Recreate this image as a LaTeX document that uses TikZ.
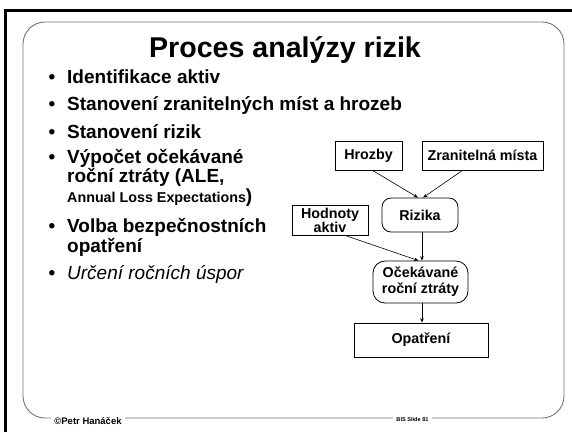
\documentclass[tikz,border=0pt]{standalone}
\usepackage{fontspec}
\setmainfont{Liberation Sans}
\usetikzlibrary{arrows.meta}
\newcommand{\titlefont}{\fontsize{28.6}{32}\selectfont\bfseries}
\newcommand{\itemfont}{\fontsize{19}{22}\selectfont\bfseries}
\newcommand{\smallitemfont}{\fontsize{14.3}{17}\selectfont\bfseries}
\newcommand{\boxfont}{\fontsize{14.3}{16}\selectfont\bfseries}
\begin{document}
\begin{tikzpicture}[x=1pt,y=-1pt,
  frameline/.style={draw=black!55,line width=0.9pt},
  outerline/.style={draw=black,line width=3pt},
  itemtext/.style={anchor=base west,inner sep=0pt,font=\itemfont},
  bulletmark/.style={anchor=base,inner sep=0pt,font=\itemfont},
  sqbox/.style={draw,line width=0.8pt,font=\boxfont,align=center,inner sep=0pt},
  rndbox/.style={sqbox,rounded corners=9pt},
  link/.style={draw,line width=0.6pt,-{Stealth[length=4.5pt,width=3.5pt]}},
  footer/.style={fill=white,inner sep=3pt,anchor=base}]
\useasboundingbox (0,0) rectangle (572,432);
% slide borders
\draw[outerline] (5,432) -- (5,10) -- (572,10);
\draw[frameline,rounded corners=22pt] (23,22) rectangle (564,418);
% title
\node[anchor=base,inner sep=0pt,font=\titlefont] (title) at (285,57) {Proces analýzy rizik};
% bullet list
\foreach \yy/\nm in {83/b1,110/b2,138/b3,163/b4,232/b5,279/b6}
  \node[bulletmark] (\nm) at (52,\yy) {•};
\node[itemtext] (t1) at (67,83) {Identifikace aktiv};
\node[itemtext] (t2) at (67,110) {Stanovení zranitelných míst a hrozeb};
\node[itemtext] (t3) at (67,138) {Stanovení rizik};
\node[itemtext] (t4) at (67,163) {Výpočet očekávané};
\node[itemtext] (t4b) at (67,182) {roční ztráty (ALE,};
\node[itemtext] (t4c) at (67,202) {{\smallitemfont Annual Loss Expectations})};
\node[itemtext] (t5) at (67,232) {Volba bezpečnostních};
\node[itemtext] (t5b) at (67,252) {opatření};
\node[itemtext,font=\fontsize{19}{22}\selectfont\itshape] (t6) at (67,279) {Určení ročních úspor};
% flow diagram
\node[sqbox,minimum width=67pt,minimum height=29pt] (hrozby) at (368.5,155.5) {Hrozby};
\node[sqbox,minimum width=121pt,minimum height=29pt] (zran) at (482.5,155.5) {Zranitelná místa};
\node[rndbox,minimum width=76pt,minimum height=34pt] (rizika) at (420,215) {Rizika};
\node[sqbox,minimum width=76pt,minimum height=30pt] (hodnoty) at (330,220) {Hodnoty\\[-2pt]aktiv};
\node[rndbox,rounded corners=12pt,minimum width=95pt,minimum height=42pt] (ocek) at (420.5,282) {Očekávané\\roční ztráty};
\node[sqbox,minimum width=134pt,minimum height=34pt] (opatreni) at (421,340) {Opatření};
\draw[link] ([xshift=4pt]hrozby.south) -- ([xshift=-2pt]rizika.north);
\draw[link] ([xshift=-20pt]zran.south) -- ([xshift=3pt]rizika.north);
\draw[link] ([xshift=2pt]rizika.south) -- ([xshift=1.5pt]ocek.north);
\draw[link] ([xshift=15pt]hodnoty.south) -- ([xshift=-2pt]ocek.north);
\draw[link] ([xshift=1.5pt]ocek.south) -- ([xshift=1pt]opatreni.north);
% footer
\node[footer,font=\fontsize{9.5}{11}\selectfont\bfseries] (author) at (88,424) {©Petr Hanáček};
\node[footer,font=\fontsize{5.6}{7}\selectfont\bfseries] (slideno) at (412.5,421) {BIS Slide 81};
\end{tikzpicture}
\end{document}
